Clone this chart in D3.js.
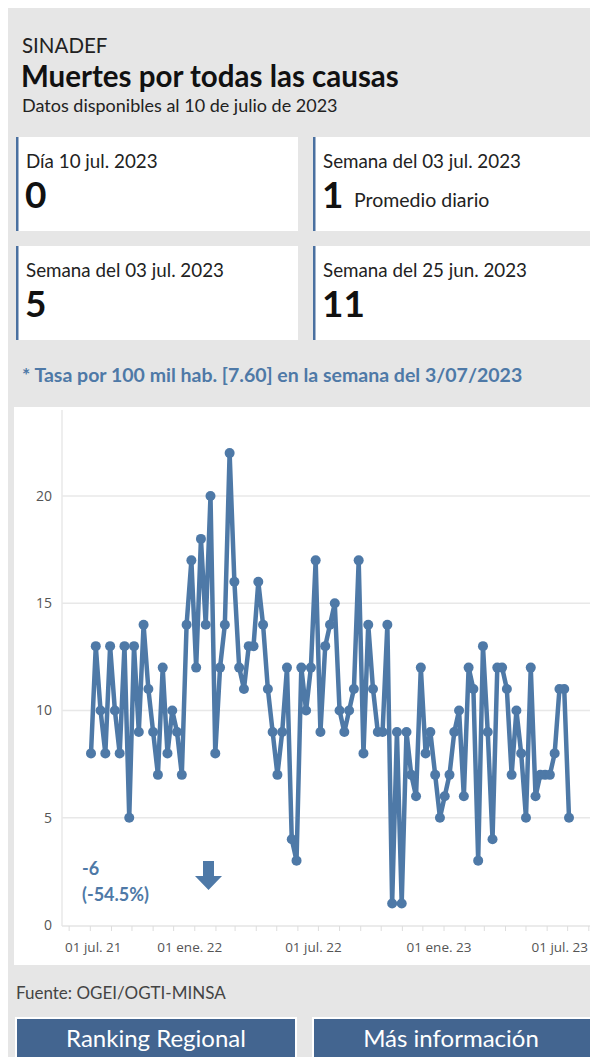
<!DOCTYPE html>
<html>
<head>
<meta charset="utf-8">
<script src="https://cdn.jsdelivr.net/npm/d3@7"></script>
<style>
  body { margin: 0; background: #fff; }
  svg { display: block; font-family: Lato, "Open Sans", sans-serif; }
</style>
</head>
<body>
<svg id="chart" width="590" height="1057"></svg>
<script>
// weekly deaths, last week = semana del 03 jul. 2023
const lastWeek = "2023-07-03";
const weeklyDeaths = [
  8, 13, 10, 8, 13, 10, 8, 13, 5, 13,
  9, 14, 11, 9, 7, 12, 8, 10, 9, 7,
  14, 17, 12, 18, 14, 20, 8, 12, 14, 22,
  16, 12, 11, 13, 13, 16, 14, 11, 9, 7,
  9, 12, 4, 3, 12, 10, 12, 17, 9, 13,
  14, 15, 10, 9, 10, 11, 17, 8, 14, 11,
  9, 9, 14, 1, 9, 1, 9, 7, 6, 12,
  8, 9, 7, 5, 6, 7, 9, 10, 6, 12,
  11, 3, 13, 9, 4, 12, 12, 11, 7, 10,
  8, 5, 12, 6, 7, 7, 7, 8, 11, 11, 5
];
const yTicks = [0, 5, 10, 15, 20];
const xTicks = ["2021-07-01", "2022-01-01", "2022-07-01", "2023-01-01", "2023-07-01"];

const cards = [
  { label: "Día 10 jul. 2023", value: "0", note: "" },
  { label: "Semana del 03 jul. 2023", value: "1", note: "Promedio diario" },
  { label: "Semana del 03 jul. 2023", value: "5", note: "" },
  { label: "Semana del 25 jun. 2023", value: "11", note: "" }
];
const buttons = ["Ranking Regional", "Más información"];

const blue = "#4e79a7";
const parse = d3.timeParse("%Y-%m-%d");
const end = parse(lastWeek);
const data = weeklyDeaths.map((v, i) => ({
  date: d3.timeWeek.offset(end, i - (weeklyDeaths.length - 1)),
  value: v
}));

const svg = d3.select("#chart");

// grey panel
svg.append("rect").attr("x", 8).attr("y", 8).attr("width", 582).attr("height", 1049)
  .attr("fill", "#e6e6e6");

// header
svg.append("text").attr("x", 22).attr("y", 53).attr("font-size", 20.5).attr("fill", "#222")
  .text("SINADEF");
svg.append("text").attr("x", 21).attr("y", 87).attr("font-size", 29.5).attr("font-weight", "bold")
  .attr("fill", "#111").text("Muertes por todas las causas");
svg.append("text").attr("x", 22).attr("y", 111.5).attr("font-size", 18).attr("fill", "#222")
  .text("Datos disponibles al 10 de julio de 2023");

// indicator cards
const cardG = svg.selectAll(".card").data(cards).enter().append("g")
  .attr("class", "card")
  .attr("transform", (d, i) => `translate(${i % 2 ? 313 : 16},${i < 2 ? 137 : 246})`);
cardG.append("rect").attr("width", (d, i) => i % 2 ? 290 : 282).attr("height", 94).attr("fill", "#fff");
cardG.append("rect").attr("width", 2.5).attr("height", 94).attr("fill", "#4a70a0");
cardG.append("text").attr("x", 10).attr("y", 31).attr("font-size", 18.8).attr("fill", "#222")
  .text(d => d.label);
cardG.append("text").attr("x", 9).attr("y", 71).attr("font-size", 37).attr("font-weight", "bold")
  .attr("fill", "#111").text(d => d.value);
cardG.append("text").attr("x", 41).attr("y", 70).attr("font-size", 19.5).attr("fill", "#222")
  .text(d => d.note);

svg.append("text").attr("x", 22).attr("y", 382).attr("font-size", 19.5).attr("font-weight", "bold")
  .attr("fill", blue).text("* Tasa por 100 mil hab. [7.60] en la semana del 3/07/2023");

// chart box
svg.append("rect").attr("x", 14).attr("y", 407).attr("width", 576).attr("height", 558).attr("fill", "#fff");

const plotLeft = 62, plotRight = 590;
const x = d3.scaleTime().domain(d3.extent(data, d => d.date)).range([91, 569]);
const y = d3.scaleLinear().domain([0, 20]).range([925, 496]);

const g = svg.append("g");

// gridlines
g.selectAll(".grid").data(yTicks.slice(1)).enter().append("line")
  .attr("x1", plotLeft).attr("x2", plotRight)
  .attr("y1", d => y(d)).attr("y2", d => y(d))
  .attr("stroke", "#e8e8e8").attr("stroke-width", 1.5);
g.append("line").attr("x1", plotLeft).attr("x2", plotLeft).attr("y1", 410).attr("y2", 926)
  .attr("stroke", "#e8e8e8").attr("stroke-width", 1.5);

// y axis
const yAxis = g.append("g").attr("transform", `translate(${plotLeft},0)`)
  .call(d3.axisLeft(y).tickValues(yTicks).tickSize(0).tickPadding(10));
yAxis.select(".domain").remove();
yAxis.selectAll("text").attr("font-size", 14).attr("fill", "#555")
  .attr("font-family", "'Open Sans', sans-serif");

// x axis baseline with monthly ticks
g.append("line").attr("x1", plotLeft).attr("x2", plotRight).attr("y1", 926).attr("y2", 926)
  .attr("stroke", "#e4e4e4").attr("stroke-width", 1.5);
const months = d3.timeMonth.range(x.invert(plotLeft), x.invert(plotRight));
g.selectAll(".mtick").data(months).enter().append("line")
  .attr("x1", d => x(d)).attr("x2", d => x(d)).attr("y1", 926).attr("y2", 931)
  .attr("stroke", "#ddd").attr("stroke-width", 1);

const fmtMonth = d => {
  const m = ["ene.", "feb.", "mar.", "abr.", "may.", "jun.", "jul.", "ago.", "sep.", "oct.", "nov.", "dic."];
  return "01 " + m[d.getMonth()] + " " + d3.timeFormat("%y")(d);
};
const xLabels = g.selectAll(".xl").data(xTicks.map(parse)).enter().append("text")
  .attr("y", 952).attr("font-size", 13.5).attr("fill", "#555")
  .attr("font-family", "'Open Sans', sans-serif")
  .attr("text-anchor", "middle").text(fmtMonth);
// keep edge labels inside the plot
xLabels.attr("x", function (d) {
  const half = this.getComputedTextLength() / 2;
  return Math.max(plotLeft + 3 + half, Math.min(plotRight - 2 - half, x(d) - 5));
});

// line + points
const line = d3.line().x(d => x(d.date)).y(d => y(d.value));
g.append("path").datum(data).attr("d", line).attr("fill", "none")
  .attr("stroke", blue).attr("stroke-width", 4.5).attr("stroke-linejoin", "round");
g.selectAll(".pt").data(data).enter().append("circle")
  .attr("cx", d => x(d.date)).attr("cy", d => y(d.value)).attr("r", 5).attr("fill", blue);

// change annotation
const last = weeklyDeaths[weeklyDeaths.length - 1], prev = weeklyDeaths[weeklyDeaths.length - 2];
const diff = last - prev;
svg.append("text").attr("x", 82).attr("y", 875).attr("font-size", 18).attr("font-weight", "bold")
  .attr("fill", blue).text(diff);
svg.append("text").attr("x", 82).attr("y", 901).attr("font-size", 18).attr("font-weight", "bold")
  .attr("fill", blue).text("(" + (diff / prev * 100).toFixed(1) + "%)");
svg.append("path").attr("fill", blue)
  .attr("d", "M203,861 h11 v15 h8 l-13.5,14 l-13.5,-14 h8 z");

// footer
svg.append("text").attr("x", 16).attr("y", 999).attr("font-size", 17).attr("fill", "#444")
  .text("Fuente: OGEI/OGTI-MINSA");
const btn = svg.selectAll(".btn").data(buttons).enter().append("g")
  .attr("transform", (d, i) => `translate(${i ? 313 : 16},1018)`);
btn.append("rect").attr("width", (d, i) => i ? 290 : 280).attr("height", 45)
  .attr("fill", "#436590").attr("stroke", "#fff").attr("stroke-width", 2);
btn.append("text").attr("x", (d, i) => i ? 138 : 140).attr("y", 29).attr("text-anchor", "middle")
  .attr("font-size", 24).attr("fill", "#fff").text(d => d);
</script>
</body>
</html>
